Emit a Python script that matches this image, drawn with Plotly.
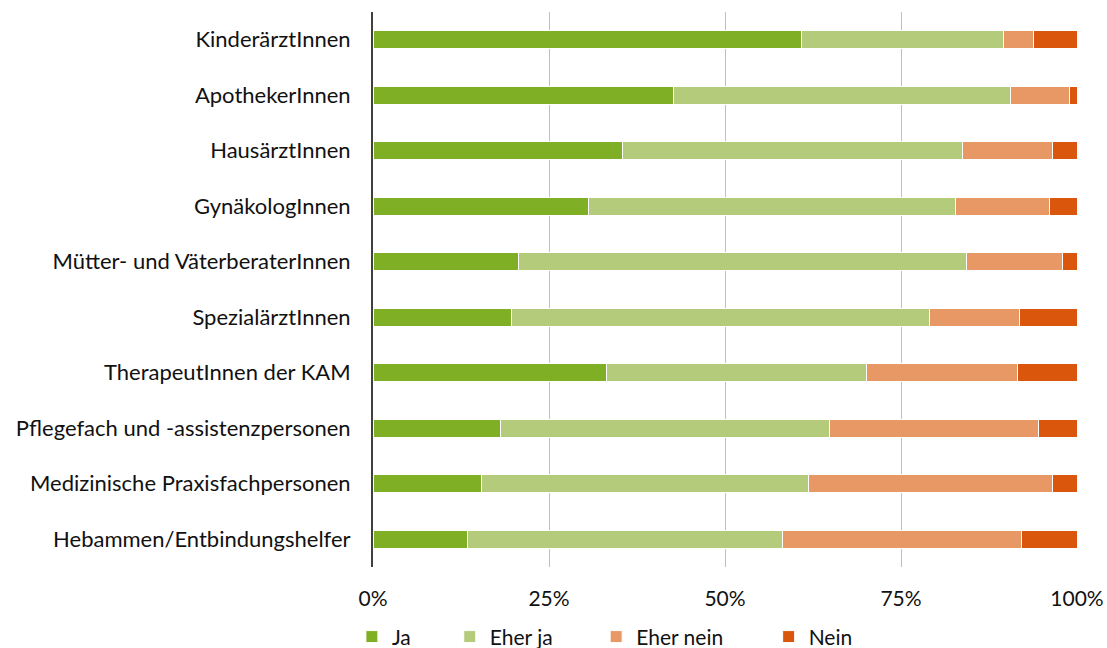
import plotly.graph_objects as go

categories = ["KinderärztInnen", "ApothekerInnen", "HausärztInnen", "GynäkologInnen",
              "Mütter- und VäterberaterInnen", "SpezialärztInnen", "TherapeutInnen der KAM",
              "Pflegefach und -assistenzpersonen", "Medizinische Praxisfachpersonen",
              "Hebammen/Entbindungshelfer"]

ja        = [60.9, 42.7, 35.4, 30.6, 20.7, 19.7, 33.1, 18.1, 15.4, 13.4]
eher_ja   = [28.7, 47.8, 48.3, 52.1, 63.6, 59.4, 37.0, 46.7, 46.5, 44.8]
eher_nein = [4.2, 8.5, 12.8, 13.4, 13.6, 12.7, 21.5, 29.7, 34.6, 33.9]
nein      = [6.2, 1.0, 3.5, 3.9, 2.1, 8.2, 8.4, 5.5, 3.5, 7.9]

ticks = [0, 25, 50, 75, 100]
tick_text = ["0%", "25%", "50%", "75%", "100%"]

series = [("Ja", ja, "#7FAF24"),
          ("Eher ja", eher_ja, "#B3CB7B"),
          ("Eher nein", eher_nein, "#E89865"),
          ("Nein", nein, "#DA560C")]

# each legend entry gets its own legend box so the spacing can follow the original
legend_x = [-0.03, 0.109, 0.317, 0.562]

fig = go.Figure()
legends = {}
for i, (name, vals, col) in enumerate(series):
    lg = "legend" if i == 0 else f"legend{i + 1}"
    fig.add_trace(go.Bar(y=categories, x=vals, name=name, orientation="h", legend=lg,
                         showlegend=True,
                         marker=dict(color=col, line=dict(color="white", width=1))))
    legends[lg] = dict(orientation="h", x=legend_x[i], xanchor="left", y=-0.126,
                       yanchor="middle", font=dict(size=21), bgcolor="rgba(0,0,0,0)")

fig.update_layout(
    barmode="stack",
    bargap=0.675,
    width=1107, height=648,
    showlegend=True,
    paper_bgcolor="white", plot_bgcolor="white",
    font=dict(family="Lato", size=21, color="#111111"),
    margin=dict(l=373, r=30, t=12, b=81, autoexpand=False),
    **legends,
)
fig.update_xaxes(range=[0, 100], tickvals=ticks, ticktext=tick_text,
                 showgrid=True, gridcolor="#BFBFBF", gridwidth=1, zeroline=False,
                 showline=False, ticks="", ticklabelstandoff=17, automargin=False)
fig.update_yaxes(autorange="reversed", showline=True, linecolor="#404040", linewidth=2,
                 ticks="", ticklabelstandoff=16, automargin=False,
                 tickfont=dict(size=22))

# drop the default page margin so the figure fills the window exactly
fig.write_html("out.html", config={"displayModeBar": False},
               post_script="document.body.style.margin='0';document.body.style.overflow='hidden';")
